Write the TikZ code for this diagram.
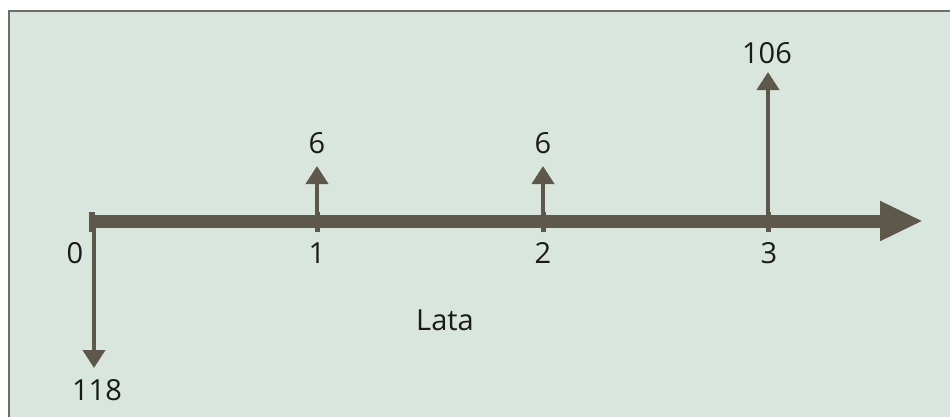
\documentclass[tikz,border=0pt]{standalone}
\usepackage{fontspec}
\setmainfont{Open Sans}
\usetikzlibrary{arrows.meta}
\definecolor{panelfill}{HTML}{D9E6DD}
\definecolor{panelrule}{HTML}{6B7069}
\definecolor{flowink}{HTML}{5E584B}
\definecolor{labelink}{HTML}{1A1A1A}
\begin{document}
\begin{tikzpicture}[x=1pt,y=1pt,
  lbl/.style={text=labelink,font=\fontsize{29}{32}\selectfont,inner sep=0pt},
  axisline/.style={draw=flowink,line width=13pt,-{Triangle[length=43pt,width=37pt]}},
  tickmark/.style={draw=flowink,line width=5pt},
  flowarrow/.style={draw=flowink,line width=4pt,-{Triangle[length=18pt,width=22pt]}}]
\useasboundingbox (0,0) rectangle (950,416);
% background panel (extends past the right and bottom edges)
\fill[panelfill] (9,-10) rectangle (960,405);
\draw[panelrule,line width=2pt] (9,-10) -- (9,405) -- (960,405);

% time axis
\coordinate (start) at (89,195);
\coordinate (end) at (923,195);
\coordinate (t0) at (94,195);
\coordinate (t1) at (317,195);
\coordinate (t2) at (543,195);
\coordinate (t3) at (768,195);
\path[axisline] (start) -- (end);
\fill[flowink] (89,184) rectangle (95,204);
\foreach \t in {t1,t2,t3}{
  \draw[tickmark] ([yshift=-11pt]\t) -- ([yshift=9pt]\t);
}

% cash flows
\coordinate (f0) at (94,48);
\coordinate (f1) at (317,250);
\coordinate (f2) at (543,250);
\coordinate (f3) at (768,344);
\draw[flowarrow] (t0) -- (f0);
\draw[flowarrow] (t1) -- (f1);
\draw[flowarrow] (t2) -- (f2);
\draw[flowarrow] (t3) -- (f3);

% labels
\node[lbl] (v0) at (97,26) {118};
\node[lbl] (v1) at (317,273) {6};
\node[lbl] (v2) at (543,273) {6};
\node[lbl] (v3) at (767,363) {106};
\node[lbl] (n0) at (75,163) {0};
\node[lbl] (n1) at (317,163) {1};
\node[lbl] (n2) at (543,163) {2};
\node[lbl] (n3) at (769,163) {3};
\node[lbl] (name) at (445,96) {Lata};
\end{tikzpicture}
\end{document}
